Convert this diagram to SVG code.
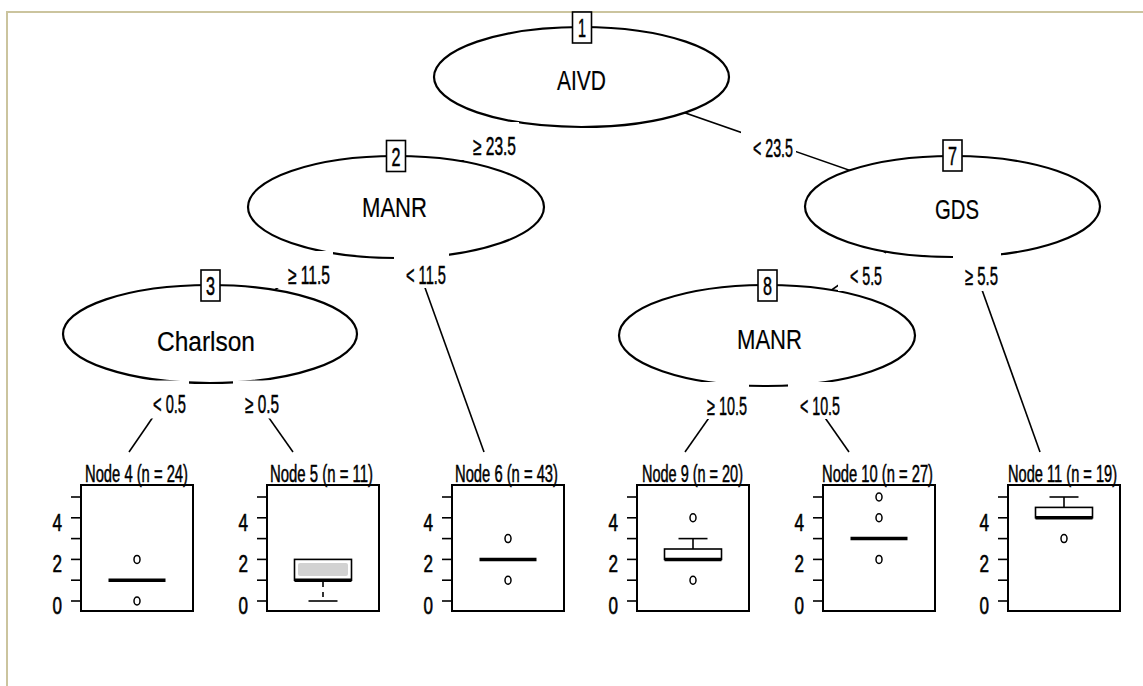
<svg xmlns="http://www.w3.org/2000/svg" xmlns:xlink="http://www.w3.org/1999/xlink" width="1143" height="686" viewBox="0 0 1143 686">
  <style>
    text { font-family: "Liberation Sans", Arial, sans-serif; fill: #000; }
    .frame { fill: none; stroke: #cbc49e; stroke-width: 2; }
    .edge { stroke: #000; stroke-width: 1.6; fill: none; }
    .inner ellipse { fill: #fff; stroke: #000; stroke-width: 2.2; }
    .var { font-size: 27px; stroke: #000; stroke-width: 0.2; }
    .idbox { fill: #fff; stroke: #000; stroke-width: 1.6; }
    .idtxt { font-size: 25px; text-anchor: middle; stroke: #000; stroke-width: 0.5; }
    .lblbg { fill: #fff; stroke: none; }
    .lbl { font-size: 25px; stroke: #000; stroke-width: 0.5; }
    .title { font-size: 23px; stroke: #000; stroke-width: 0.5; }
    .panel { fill: none; stroke: #000; stroke-width: 2; }
    .tick { stroke: #000; stroke-width: 1.6; }
    .axl { font-size: 24px; text-anchor: end; stroke: #000; stroke-width: 0.6; }
    .med { stroke: #000; stroke-width: 3.5; }
    .bx { fill: #fff; stroke: #000; stroke-width: 1.6; }
    .shade { fill: #d2d2d2; }
    .wh { stroke: #000; stroke-width: 1.6; }
    .whd { stroke: #000; stroke-width: 1.6; stroke-dasharray: 5 5; }
    .out { fill: none; stroke: #000; stroke-width: 1.5; }
  </style>
  <defs>
    <!-- shared frame and y axis (0..5) of every terminal panel, placed by x offset -->
    <g id="axisframe">
      <rect class="panel" x="0" y="485" width="112" height="126"/>
      <line class="tick" x1="-10" y1="601" x2="0" y2="601"/>
      <line class="tick" x1="-10" y1="580.2" x2="0" y2="580.2"/>
      <line class="tick" x1="-10" y1="559.4" x2="0" y2="559.4"/>
      <line class="tick" x1="-10" y1="538.6" x2="0" y2="538.6"/>
      <line class="tick" x1="-10" y1="517.8" x2="0" y2="517.8"/>
      <line class="tick" x1="-10" y1="497" x2="0" y2="497"/>
      <text class="axl" x="-19" y="530.5" textLength="9.5" lengthAdjust="spacingAndGlyphs">4</text>
      <text class="axl" x="-19" y="572" textLength="9.5" lengthAdjust="spacingAndGlyphs">2</text>
      <text class="axl" x="-19" y="613.5" textLength="9.5" lengthAdjust="spacingAndGlyphs">0</text>
    </g>
  </defs>

  <rect width="1143" height="686" fill="#fff"/>
  <rect class="frame" x="7" y="12" width="1200" height="700"/>

  <!-- connectors: centre of parent to centre of child / top of terminal panel -->
  <g id="connectors">
    <line class="edge" x1="582" y1="77" x2="396" y2="207"/>
    <line class="edge" x1="582" y1="77" x2="952" y2="206"/>
    <line class="edge" x1="396" y1="207" x2="210" y2="334"/>
    <line class="edge" x1="396" y1="207" x2="484" y2="452"/>
    <line class="edge" x1="952" y1="206" x2="767" y2="335"/>
    <line class="edge" x1="952" y1="206" x2="1040" y2="452"/>
    <line class="edge" x1="210" y1="334" x2="129" y2="452"/>
    <line class="edge" x1="210" y1="334" x2="293" y2="452"/>
    <line class="edge" x1="767" y1="335" x2="685" y2="452"/>
    <line class="edge" x1="767" y1="335" x2="849" y2="452"/>
  </g>

  <!-- inner (split) nodes -->
  <g id="node1" class="inner">
    <ellipse cx="581.5" cy="77" rx="147.5" ry="50"/>
    <text class="var" x="557" y="90" textLength="49" lengthAdjust="spacingAndGlyphs">AIVD</text>
  </g>
  <g id="node2" class="inner">
    <ellipse cx="396" cy="207" rx="148" ry="51"/>
    <text class="var" x="362" y="217" textLength="65" lengthAdjust="spacingAndGlyphs">MANR</text>
  </g>
  <g id="node7" class="inner">
    <ellipse cx="952.5" cy="206.5" rx="147.5" ry="50.5"/>
    <text class="var" x="935" y="219" textLength="44" lengthAdjust="spacingAndGlyphs">GDS</text>
  </g>
  <g id="node3" class="inner">
    <ellipse cx="210" cy="334" rx="147" ry="49"/>
    <text class="var" x="157" y="351" textLength="98" lengthAdjust="spacingAndGlyphs">Charlson</text>
  </g>
  <g id="node8" class="inner">
    <ellipse cx="767" cy="335.5" rx="148" ry="50.5"/>
    <text class="var" x="737" y="349" textLength="65" lengthAdjust="spacingAndGlyphs">MANR</text>
  </g>

  <!-- split labels on the connectors, each on a white backing -->
  <g id="edge-labels">
    <rect class="lblbg" x="461" y="122" width="58" height="38"/>
    <text class="lbl" x="473" y="155" textLength="43" lengthAdjust="spacingAndGlyphs">≥ 23.5</text>
    <rect class="lblbg" x="741" y="124" width="55" height="38"/>
    <text class="lbl" x="753" y="157" textLength="40" lengthAdjust="spacingAndGlyphs">&lt; 23.5</text>
    <rect class="lblbg" x="276" y="251" width="57" height="37"/>
    <text class="lbl" x="288" y="284" textLength="42" lengthAdjust="spacingAndGlyphs">≥ 11.5</text>
    <rect class="lblbg" x="394" y="251" width="55" height="37"/>
    <text class="lbl" x="406" y="284" textLength="40" lengthAdjust="spacingAndGlyphs">&lt; 11.5</text>
    <rect class="lblbg" x="838" y="253" width="47" height="38"/>
    <text class="lbl" x="850" y="285" textLength="32" lengthAdjust="spacingAndGlyphs">&lt; 5.5</text>
    <rect class="lblbg" x="953" y="253" width="48" height="38"/>
    <text class="lbl" x="965" y="285" textLength="33" lengthAdjust="spacingAndGlyphs">≥ 5.5</text>
    <rect class="lblbg" x="141" y="380.5" width="48" height="38"/>
    <text class="lbl" x="153" y="413" textLength="33" lengthAdjust="spacingAndGlyphs">&lt; 0.5</text>
    <rect class="lblbg" x="233" y="380.5" width="49" height="38"/>
    <text class="lbl" x="245" y="413" textLength="34" lengthAdjust="spacingAndGlyphs">≥ 0.5</text>
    <rect class="lblbg" x="695" y="382" width="54" height="37"/>
    <text class="lbl" x="707" y="415" textLength="40" lengthAdjust="spacingAndGlyphs">≥ 10.5</text>
    <rect class="lblbg" x="788" y="382" width="55" height="37"/>
    <text class="lbl" x="800" y="415" textLength="40" lengthAdjust="spacingAndGlyphs">&lt; 10.5</text>
  </g>

  <!-- node number tags -->
  <g id="tag1"><rect class="idbox" x="572.5" y="12" width="19" height="31"/><text class="idtxt" x="582" y="37" textLength="8" lengthAdjust="spacingAndGlyphs">1</text></g>
  <g id="tag2"><rect class="idbox" x="386.5" y="140.5" width="19" height="31"/><text class="idtxt" x="396" y="165.5" textLength="9" lengthAdjust="spacingAndGlyphs">2</text></g>
  <g id="tag7"><rect class="idbox" x="943" y="140" width="19" height="31"/><text class="idtxt" x="952.5" y="165" textLength="9" lengthAdjust="spacingAndGlyphs">7</text></g>
  <g id="tag3"><rect class="idbox" x="201" y="270" width="19" height="31"/><text class="idtxt" x="210.5" y="295" textLength="9" lengthAdjust="spacingAndGlyphs">3</text></g>
  <g id="tag8"><rect class="idbox" x="758" y="270" width="19" height="31"/><text class="idtxt" x="767.5" y="295" textLength="9" lengthAdjust="spacingAndGlyphs">8</text></g>

  <!-- terminal nodes: boxplots on a 0..5 scale, y = 601 - 20.8 * value -->
  <g id="node4">
    <text class="title" x="85" y="482" textLength="103" lengthAdjust="spacingAndGlyphs">Node 4 (n = 24)</text>
    <use xlink:href="#axisframe" href="#axisframe" x="81"/>
    <line class="med" x1="108.5" y1="580.2" x2="165.5" y2="580.2"/>
    <ellipse class="out" cx="137" cy="559.4" rx="3" ry="4"/>
    <ellipse class="out" cx="137" cy="601" rx="3" ry="4"/>
  </g>
  <g id="node5">
    <text class="title" x="270" y="482" textLength="103" lengthAdjust="spacingAndGlyphs">Node 5 (n = 11)</text>
    <use xlink:href="#axisframe" href="#axisframe" x="267"/>
    <rect class="bx" x="294.5" y="559.4" width="57" height="20.8"/>
    <rect class="shade" x="298" y="563" width="50" height="13" rx="2"/>
    <line class="med" x1="294.5" y1="580.2" x2="351.5" y2="580.2"/>
    <line class="whd" x1="323" y1="582" x2="323" y2="601"/>
    <line class="wh" x1="308.5" y1="601" x2="337.5" y2="601"/>
  </g>
  <g id="node6">
    <text class="title" x="455" y="482" textLength="103" lengthAdjust="spacingAndGlyphs">Node 6 (n = 43)</text>
    <use xlink:href="#axisframe" href="#axisframe" x="452"/>
    <line class="med" x1="479.5" y1="559.4" x2="536.5" y2="559.4"/>
    <ellipse class="out" cx="508" cy="538.6" rx="3" ry="4"/>
    <ellipse class="out" cx="508" cy="580.2" rx="3" ry="4"/>
  </g>
  <g id="node9">
    <text class="title" x="642" y="482" textLength="101" lengthAdjust="spacingAndGlyphs">Node 9 (n = 20)</text>
    <use xlink:href="#axisframe" href="#axisframe" x="637"/>
    <rect class="bx" x="664.5" y="549" width="57" height="10.4"/>
    <line class="med" x1="664.5" y1="559.4" x2="721.5" y2="559.4"/>
    <line class="wh" x1="693" y1="549" x2="693" y2="538.6"/>
    <line class="wh" x1="678.5" y1="538.6" x2="707.5" y2="538.6"/>
    <ellipse class="out" cx="693" cy="517.8" rx="3" ry="4"/>
    <ellipse class="out" cx="693" cy="580.2" rx="3" ry="4"/>
  </g>
  <g id="node10">
    <text class="title" x="822" y="482" textLength="111" lengthAdjust="spacingAndGlyphs">Node 10 (n = 27)</text>
    <use xlink:href="#axisframe" href="#axisframe" x="823"/>
    <line class="med" x1="850.5" y1="538.6" x2="907.5" y2="538.6"/>
    <ellipse class="out" cx="879" cy="497" rx="3" ry="4"/>
    <ellipse class="out" cx="879" cy="517.8" rx="3" ry="4"/>
    <ellipse class="out" cx="879" cy="559.4" rx="3" ry="4"/>
  </g>
  <g id="node11">
    <!-- condensed by a horizontal scale so its extent stays inside the page -->
    <text class="title" transform="translate(1008 482) scale(0.636 1)" x="0" y="0">Node 11 (n = 19)</text>
    <use xlink:href="#axisframe" href="#axisframe" x="1008"/>
    <rect class="bx" x="1035.5" y="507.4" width="57" height="10.4"/>
    <line class="med" x1="1035.5" y1="517.8" x2="1092.5" y2="517.8"/>
    <line class="wh" x1="1064" y1="507.4" x2="1064" y2="497"/>
    <line class="wh" x1="1049.5" y1="497" x2="1078.5" y2="497"/>
    <ellipse class="out" cx="1064" cy="538.6" rx="3" ry="4"/>
  </g>
</svg>
